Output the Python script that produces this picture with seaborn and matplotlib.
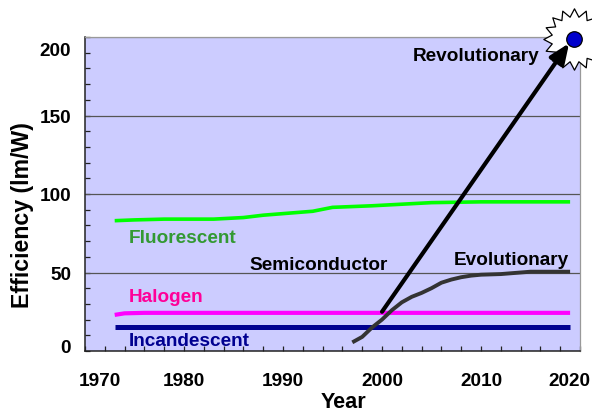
import matplotlib
matplotlib.use("Agg")
import matplotlib.pyplot as plt
import matplotlib.transforms as mtrans
from matplotlib.path import Path
import seaborn as sns

fluor_years = [1973, 1975, 1978, 1983, 1986, 1988, 1990, 1993, 1995, 1999, 2002, 2005, 2010, 2019]
fluor_vals = [83, 83.5, 84, 84, 85, 86.5, 87.5, 89, 91.5, 92.5, 93.5, 94.5, 95, 95]
halogen_years = [1973, 1974, 1976, 2019]
halogen_vals = [23, 24, 24.3, 24.3]
incand_years = [1973, 2019]
incand_vals = [15, 15]
semi_years = [1997, 1998, 1999, 2000, 2001, 2002, 2003, 2004, 2005, 2006, 2007, 2008, 2009, 2010, 2012, 2015, 2019]
semi_vals = [5.5, 9, 15, 20, 26, 31, 34.5, 37, 40, 43.5, 45.5, 47, 48, 48.6, 49, 50.5, 50.5]
rev_point = (2019.4, 198.7)
arrow_start = (2000, 25)
arrow_tip = (2018.9, 196)

x_major = [1970, 1980, 1990, 2000, 2010, 2020]
x_minor = list(range(1970, 2021, 2))
y_major = [0, 50, 100, 150, 200]
y_minor = list(range(0, 201, 10))

sns.set_theme(style="white")
plt.rcParams["font.family"] = ["Liberation Sans", "DejaVu Sans"]
plt.rcParams["font.weight"] = "bold"

W, H = 592, 414
fig = plt.figure(figsize=(W / 100, H / 100), dpi=100, facecolor="white")
ax = fig.add_axes([85 / W, (H - 352) / H, (580 - 85) / W, (352 - 38) / H])
ax.set_facecolor("#CCCCFF")
ax.set_xlim(1970, 2020)
ax.set_ylim(0, 200)

for yv in y_major[1:]:
    ax.axhline(yv, color="#555555" if yv < 200 else "#999999", lw=0.9, zorder=1)

sns.lineplot(x=fluor_years, y=fluor_vals, ax=ax, color="#00FF00", lw=2.6, zorder=3, solid_capstyle="butt")
sns.lineplot(x=halogen_years, y=halogen_vals, ax=ax, color="#FF00FF", lw=3, zorder=3, solid_capstyle="butt")
sns.lineplot(x=incand_years, y=incand_vals, ax=ax, color="#000090", lw=3.6, zorder=3, solid_capstyle="butt")
sns.lineplot(x=semi_years, y=semi_vals, ax=ax, color="#333333", lw=2.8, zorder=4, solid_capstyle="butt")

ax.annotate("", xy=arrow_tip, xytext=arrow_start, zorder=6, annotation_clip=False,
            arrowprops=dict(arrowstyle="-|>,head_length=1.0,head_width=0.42", color="black",
                            lw=3, shrinkA=0, shrinkB=0))

star = Path.unit_regular_star(16, innerCircle=0.74)
ax.scatter([rev_point[0]], [rev_point[1]], marker=star, s=1950, facecolor="white",
           edgecolor="black", linewidth=0.9, clip_on=False, zorder=5)
ax.scatter([rev_point[0]], [rev_point[1]], s=125, facecolor="#0000CC",
           edgecolor="black", linewidth=0.9, clip_on=False, zorder=7)

tfs = 13.7
ax.text(1974.4, 72.5, "Fluorescent", color="#339933", fontsize=tfs, va="center", fontweight="bold")
ax.text(1974.4, 34.7, "Halogen", color="#FF0099", fontsize=tfs, va="center", fontweight="bold")
ax.text(1974.4, 6.4, "Incandescent", color="#000090", fontsize=tfs, va="center", fontweight="bold")
ax.text(1986.6, 55.4, "Semiconductor", color="black", fontsize=tfs, va="center", fontweight="bold")
ax.text(2007.2, 58.4, "Evolutionary", color="black", fontsize=tfs, va="center", fontweight="bold")
ax.text(2003.1, 188, "Revolutionary", color="black", fontsize=tfs, va="center", fontweight="bold", zorder=8)

ax.set_xticks(x_major)
ax.set_xticks(x_minor, minor=True)
ax.set_yticks(y_major)
ax.set_yticks(y_minor, minor=True)
ax.set_xticklabels([str(v) for v in x_major], fontsize=tfs, fontweight="bold", color="black")
ax.set_yticklabels([str(v) for v in y_major], fontsize=tfs, fontweight="bold", color="black")
ax.tick_params(axis="both", which="both", direction="in", length=3.5, width=0.9, color="#222222",
               bottom=True, left=True)
ax.tick_params(axis="x", which="major", pad=15)
ax.tick_params(axis="y", which="major", pad=10)

def shift(label, dx, dy):
    label.set_transform(label.get_transform() + mtrans.ScaledTranslation(dx / 100, -dy / 100, fig.dpi_scale_trans))

xl = ax.get_xticklabels()
shift(xl[0], 15, 0)
shift(xl[-1], -11, 0)
yl = ax.get_yticklabels()
shift(yl[0], 0, -5)
shift(yl[-1], 0, 12)

for s in ("top", "right"):
    ax.spines[s].set_color("#999999")
    ax.spines[s].set_linewidth(0.9)
for s in ("left", "bottom"):
    ax.spines[s].set_color("#222222")
    ax.spines[s].set_linewidth(1.1)

fig.text(344 / W, (H - 403) / H, "Year", fontsize=15.6, fontweight="bold", ha="center", va="center", color="black")
fig.text(23 / W, (H - 215) / H, "Efficiency (lm/W)", fontsize=16.7, fontweight="bold", rotation=90,
         ha="center", va="center", color="black")

fig.savefig("out.png", dpi=100)
